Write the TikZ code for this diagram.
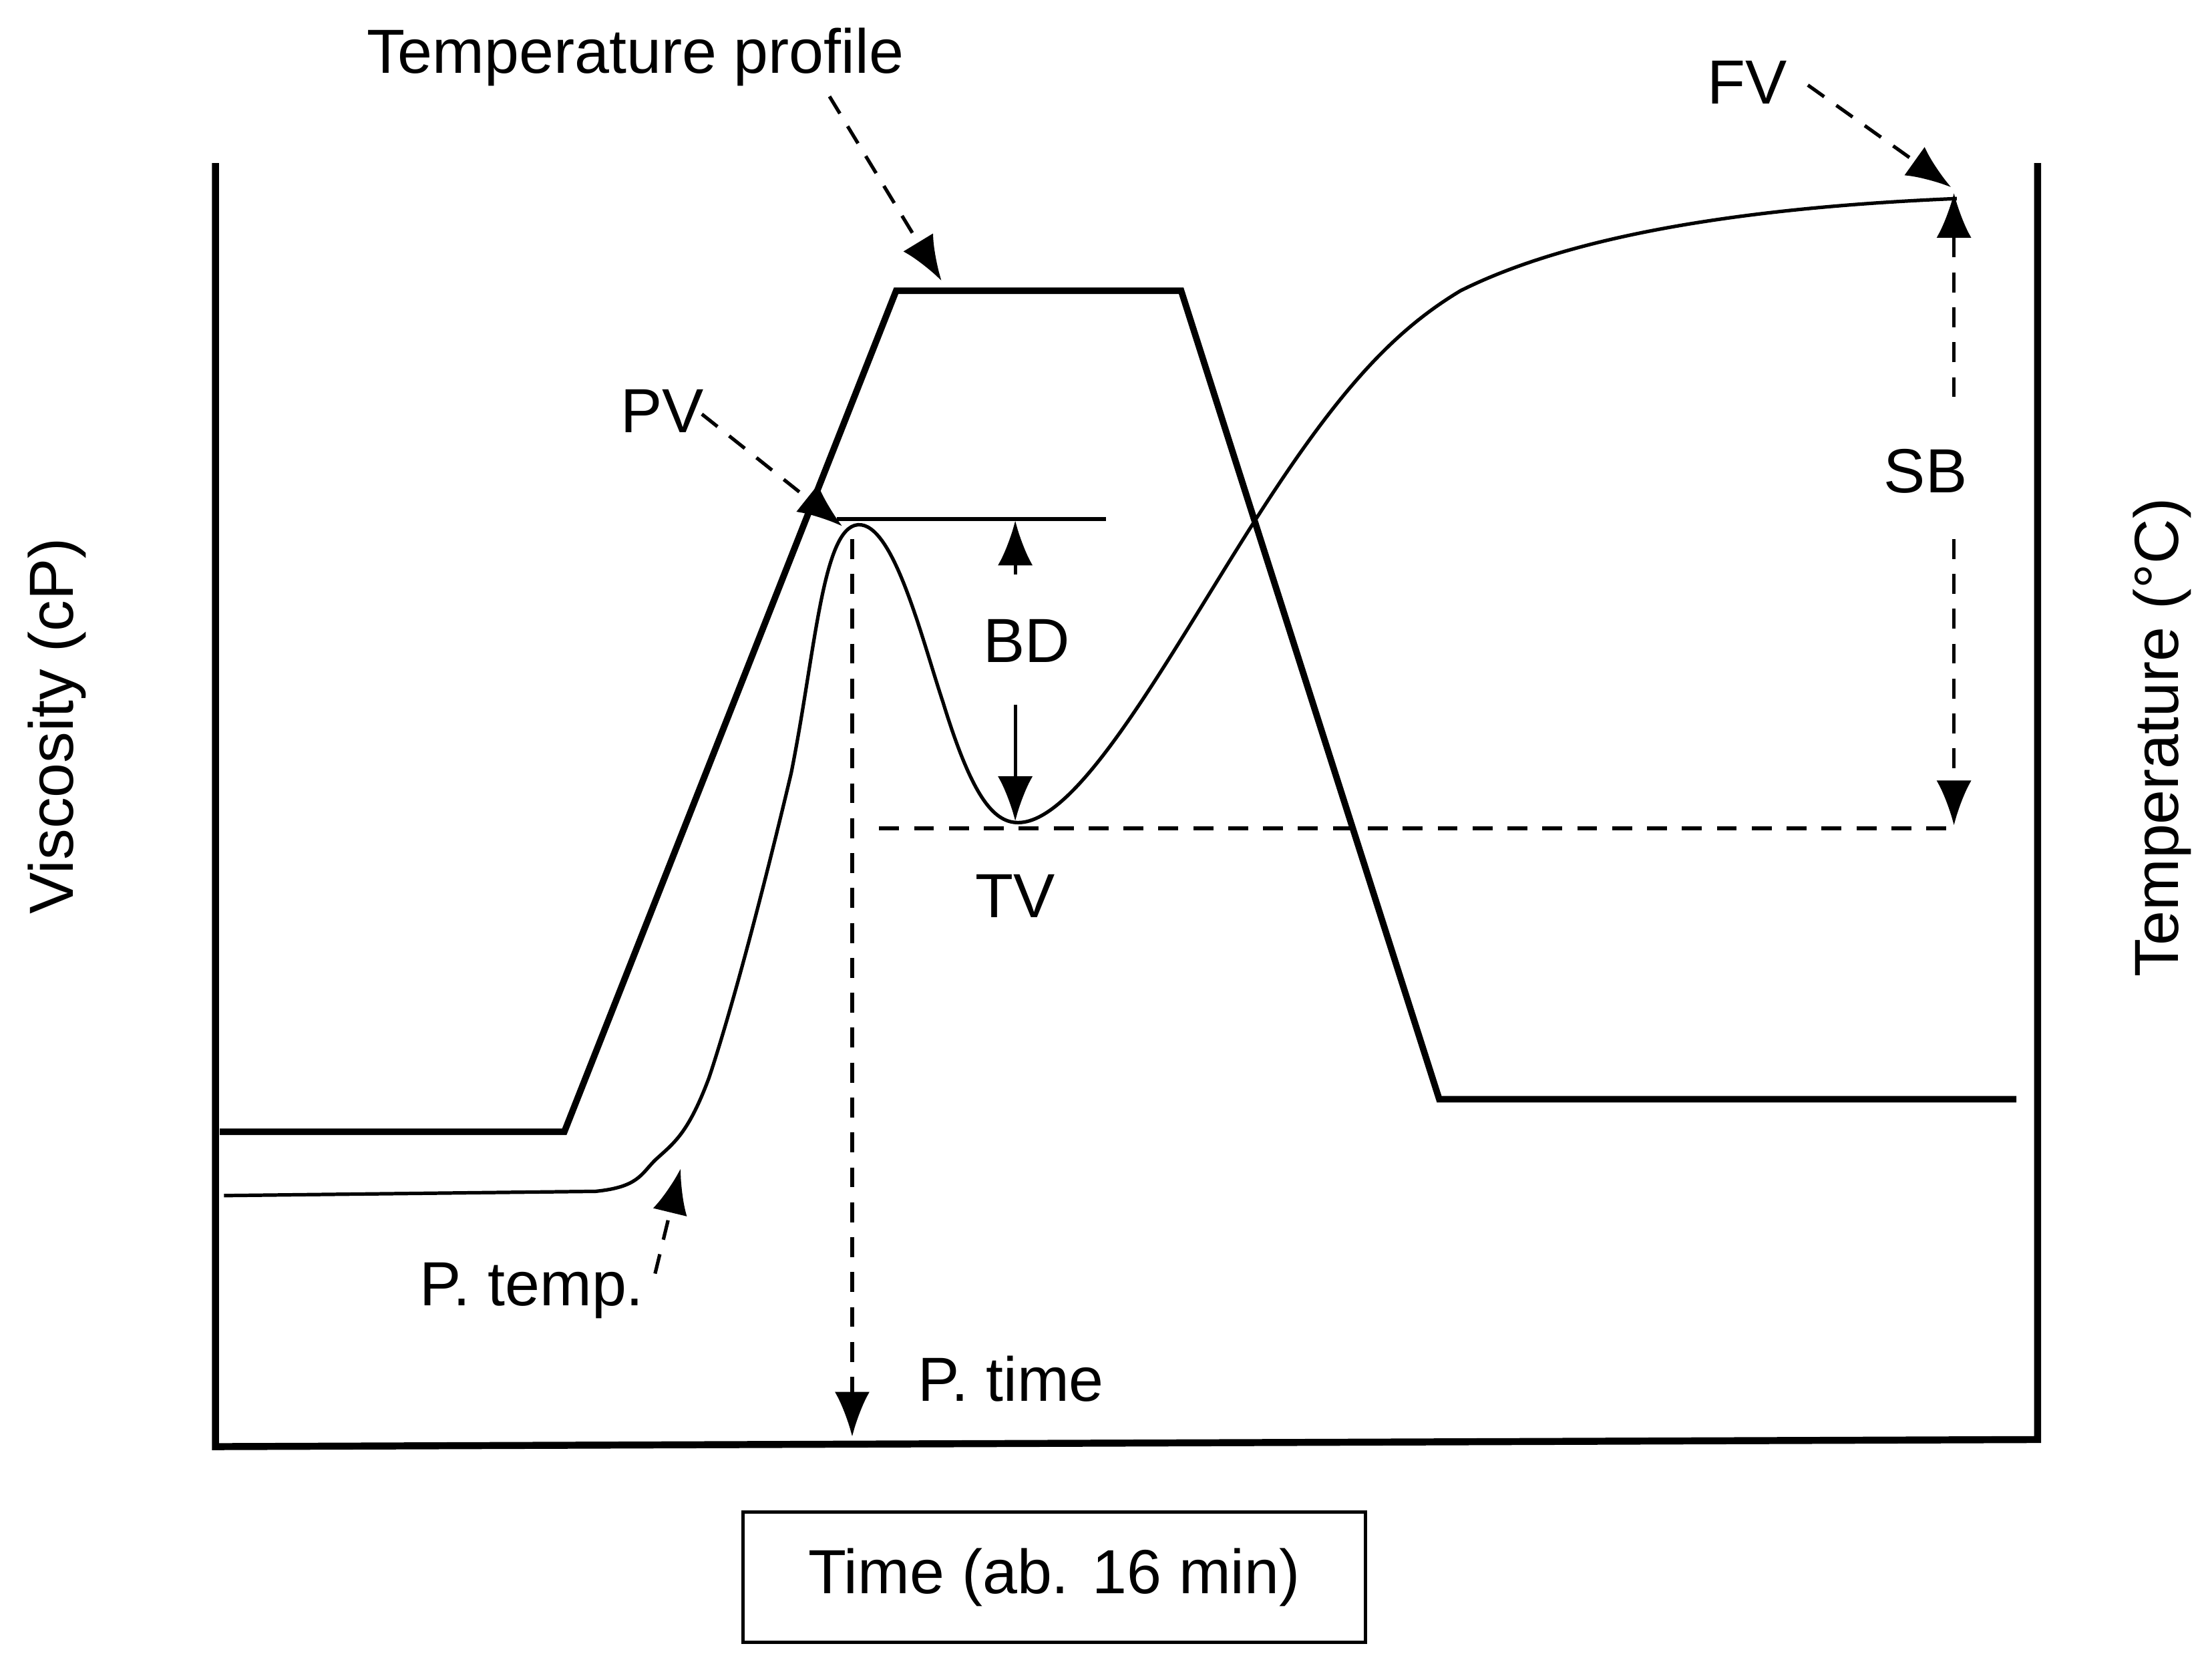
\documentclass[tikz,border=0pt]{standalone}
\usepackage{fontspec}
\setmainfont{Liberation Sans}
\usetikzlibrary{arrows.meta}
\begin{document}
\begin{tikzpicture}[x=0.01cm,y=-0.01cm,
  axis/.style={line width=1.4pt},
  prof/.style={line width=1.3pt,line join=miter},
  visc/.style={line width=0.7pt},
  dsh/.style={line width=0.7pt,dash pattern=on 4pt off 3pt,-{Latex[length=9pt,width=7pt]}},
  dln/.style={line width=0.7pt,dash pattern=on 4pt off 3pt},
  sarr/.style={line width=0.7pt,-{Latex[length=9pt,width=7pt]}},
  lab/.style={font=\fontsize{12.5}{14}\selectfont,inner sep=1pt}]
\useasboundingbox (0,0) rectangle (1560,1166);
% axes
\draw[axis] (152,115) -- (152,1020) -- (1437,1015) -- (1437,115);
% temperature profile
\draw[prof] (155,798) -- (398,798) -- (632,205) -- (833,205) -- (1015,775) -- (1422,775);
% viscosity curve
\draw[visc] (158,843) -- (420,840) .. controls (450,837) and (452,828) .. (462,818)
  .. controls (475,806) and (485,800) .. (500,760)
  .. controls (520,700) and (545,600) .. (558,545)
  .. controls (575,460) and (580,372) .. (605,370)
  .. controls (630,368) and (650,450) .. (665,495)
  .. controls (685,560) and (700,580) .. (718,580)
  .. controls (760,580) and (820,470) .. (880,375)
  .. controls (940,280) and (980,235) .. (1030,205)
  .. controls (1120,160) and (1260,145) .. (1380,140);
% PV line
\draw[visc] (590,366) -- (780,366);
% labels
\node[lab] (tp) at (448,40) {Temperature profile};
\node[lab] (fv) at (1232,58) {FV};
\node[lab] (pv) at (467,290) {PV};
\node[lab] (bd) at (724,452) {BD};
\node[lab] (tv) at (716,632) {TV};
\node[lab] (sb) at (1358,332) {SB};
\node[lab] (pt) at (375,910) {P. temp.};
\node[lab] (ptime) at (713,972) {P. time};
\node[lab,rotate=90] (vy) at (40,512) {Viscosity (cP)};
\node[lab,rotate=90] (ty) at (1525,520) {Temperature (°C)};
\node[lab,draw,line width=0.7pt,minimum width=4.39cm,minimum height=0.92cm] (tx) at (743.5,1112) {Time (ab. 16 min)};
% coordinates
\coordinate (tpA) at (585,68); \coordinate (tpB) at (664,198);
\coordinate (fvA) at (1275,60); \coordinate (fvB) at (1376,132);
\coordinate (pvA) at (495,292); \coordinate (pvB) at (594,371);
\coordinate (ptA) at (462,898); \coordinate (ptB) at (480,824);
\coordinate (bdA) at (716,405); \coordinate (bdB) at (716,367);
\coordinate (bdC) at (716,497); \coordinate (bdD) at (716,579);
\coordinate (tvA) at (620,584); \coordinate (tvB) at (1380,584);
\coordinate (ptmA) at (601,380); \coordinate (ptmB) at (601,1013);
\coordinate (sbA) at (1378,280); \coordinate (sbB) at (1378,136);
\coordinate (sbC) at (1378,380); \coordinate (sbD) at (1378,582);
% connectors
\draw[dsh] (tpA) -- (tpB);
\draw[dsh] (fvA) -- (fvB);
\draw[dsh] (pvA) -- (pvB);
\draw[dsh] (ptA) -- (ptB);
\draw[sarr] (bdA) -- (bdB);
\draw[sarr] (bdC) -- (bdD);
\draw[dln] (tvA) -- (tvB);
\draw[dsh] (ptmA) -- (ptmB);
\draw[dsh] (sbA) -- (sbB);
\draw[dsh] (sbC) -- (sbD);
\end{tikzpicture}
\end{document}
